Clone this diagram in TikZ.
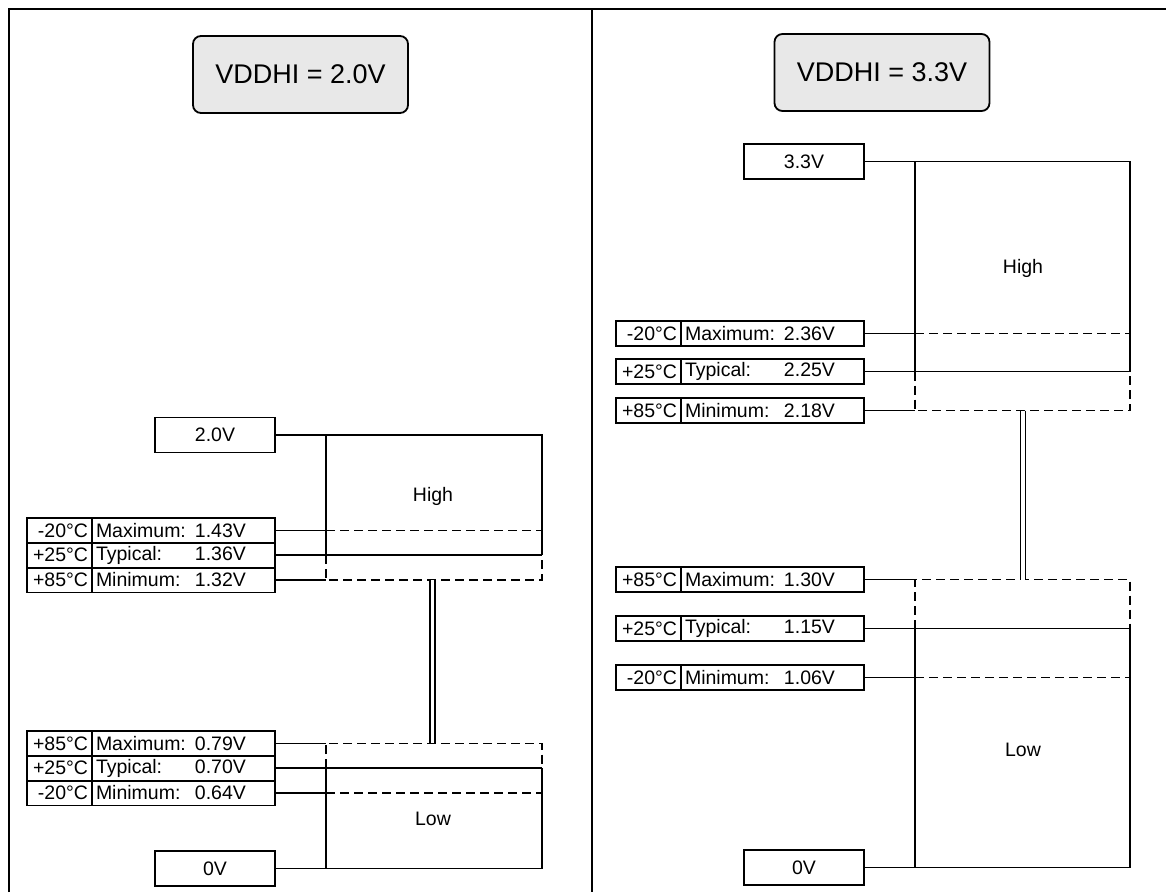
\documentclass[tikz,border=0pt]{standalone}
\usepackage{fontspec}
\setmainfont{Liberation Sans}
\definecolor{titlegray}{HTML}{E8E8E8}
\begin{document}
\begin{tikzpicture}[x=1pt,y=-1pt]
\useasboundingbox (0,0) rectangle (1166,892);
\tikzset{
  frame/.style={line width=2.2pt},
  ln/.style={line width=1.8pt},
  dsh/.style={line width=1.8pt, dash pattern=on 9pt off 5pt},
  txt/.style={font=\fontsize{19.5}{21}\selectfont},
  title/.style={draw, line width=1.8pt, rounded corners=8pt, fill=titlegray,
    font=\fontsize{27}{30}\selectfont, minimum width=215pt, minimum height=77pt},
  vbox/.style={draw, line width=1.8pt, minimum width=120pt, minimum height=35pt,
    inner sep=0pt, outer sep=0pt, txt},
  tcell/.style={draw, line width=1.8pt, anchor=north west, inner xsep=4pt, inner ysep=0pt,
    outer sep=0pt, text width=57pt, align=right, minimum height=#1, txt},
  lcell/.style={draw, line width=1.8pt, anchor=north west, inner xsep=4pt, inner ysep=0pt,
    outer sep=0pt, text width=175pt, align=left, minimum height=#1, txt},
  conn/.style={double, double distance=3.5pt, line width=1.6pt},
}
\newcommand{\lab}[2]{\makebox[99pt][l]{#1}#2}
% frame
\draw[frame] (9,892) -- (9,9) -- (1166,9);
\draw[frame] (592,9) -- (592,892);

% ================= LEFT PANEL =================
\node[title] (tL) at (300.5,74.5) {VDDHI = 2.0V};
\coordinate (LL) at (326,0);
\coordinate (LR) at (542,0);
\node[vbox] (v20) at (215,435) {2.0V};
\node[vbox] (v0L) at (215,868.5) {0V};

% High table
\node[tcell=24.8pt] (h1a) at (27,518) {-20°C};
\node[lcell=24.8pt] (h1b) at (h1a.north east) {\lab{Maximum:}{1.43V}};
\node[tcell=24.8pt] (h2a) at (h1a.south west) {+25°C};
\node[lcell=24.8pt] (h2b) at (h2a.north east) {\lab{Typical:}{1.36V}};
\node[tcell=24.8pt] (h3a) at (h2a.south west) {+85°C};
\node[lcell=24.8pt] (h3b) at (h3a.north east) {\lab{Minimum:}{1.32V}};

% Low table
\node[tcell=24.8pt] (l1a) at (27,731) {+85°C};
\node[lcell=24.8pt] (l1b) at (l1a.north east) {\lab{Maximum:}{0.79V}};
\node[tcell=24.8pt] (l2a) at (l1a.south west) {+25°C};
\node[lcell=24.8pt] (l2b) at (l2a.north east) {\lab{Typical:}{0.70V}};
\node[tcell=24.8pt] (l3a) at (l2a.south west) {-20°C};
\node[lcell=24.8pt] (l3b) at (l3a.north east) {\lab{Minimum:}{0.64V}};

% High band
\draw[ln] (v20.east) -- (v20.east -| LR) -- (h2b.east -| LR);
\draw[ln] (v20.east -| LL) -- (h2b.east -| LL);
\draw[ln] (h1b.east) -- (h1b.east -| LL);
\draw[dsh] (h1b.east -| LL) -- (h1b.east -| LR);
\draw[ln] (h2b.east) -- (h2b.east -| LR);
\draw[ln] (h3b.east) -- (h3b.east -| LL);
\draw[dsh] (h2b.east -| LL) -- (h3b.east -| LL) -- (h3b.east -| LR) -- (h2b.east -| LR);
\node[txt] (hiL) at (433,496) {High};

% Low band
\draw[ln] (l1b.east) -- (l1b.east -| LL);
\draw[dsh] (l2b.east -| LL) -- (l1b.east -| LL) -- (l1b.east -| LR) -- (l2b.east -| LR);
\draw[ln] (l2b.east) -- (l2b.east -| LR);
\draw[ln] (l3b.east) -- (l3b.east -| LL);
\draw[dsh] (l3b.east -| LL) -- (l3b.east -| LR);
\draw[ln] (l2b.east -| LL) -- (v0L.east -| LL);
\draw[ln] (v0L.east) -- (v0L.east -| LR) -- (l2b.east -| LR);
\node[txt] (loL) at (433,819) {Low};

% connector
\coordinate (cL) at (432.5,0);
\draw[conn] (h3b.east -| cL) -- (l1b.east -| cL);

% ================= RIGHT PANEL =================
\node[title] (tR) at (882,72.5) {VDDHI = 3.3V};
\coordinate (RL) at (915,0);
\coordinate (RR) at (1130,0);
\node[vbox] (v33) at (804,161.5) {3.3V};
\node[vbox] (v0R) at (804,867.5) {0V};

% High rows
\node[tcell=25pt] (r1a) at (616,321) {-20°C};
\node[lcell=25pt] (r1b) at (r1a.north east) {\lab{Maximum:}{2.36V}};
\node[tcell=25pt] (r2a) at (616,359) {+25°C};
\node[lcell=25pt] (r2b) at (r2a.north east) {\lab{Typical:}{2.25V}};
\node[tcell=25pt] (r3a) at (616,398) {+85°C};
\node[lcell=25pt] (r3b) at (r3a.north east) {\lab{Minimum:}{2.18V}};

% Low rows
\node[tcell=25pt] (s1a) at (616,567) {+85°C};
\node[lcell=25pt] (s1b) at (s1a.north east) {\lab{Maximum:}{1.30V}};
\node[tcell=25pt] (s2a) at (616,616) {+25°C};
\node[lcell=25pt] (s2b) at (s2a.north east) {\lab{Typical:}{1.15V}};
\node[tcell=25pt] (s3a) at (616,665) {-20°C};
\node[lcell=25pt] (s3b) at (s3a.north east) {\lab{Minimum:}{1.06V}};

% High band
\draw[ln] (v33.east) -- (v33.east -| RR) -- (r2b.east -| RR);
\draw[ln] (v33.east -| RL) -- (r2b.east -| RL);
\draw[ln] (r1b.east) -- (r1b.east -| RL);
\draw[dsh] (r1b.east -| RL) -- (r1b.east -| RR);
\draw[ln] (r2b.east) -- (r2b.east -| RR);
\draw[ln] (r3b.east) -- (r3b.east -| RL);
\draw[dsh] (r2b.east -| RL) -- (r3b.east -| RL) -- (r3b.east -| RR) -- (r2b.east -| RR);
\node[txt] (hiR) at (1023,268) {High};

% Low band
\draw[ln] (s1b.east) -- (s1b.east -| RL);
\draw[dsh] (s2b.east -| RL) -- (s1b.east -| RL) -- (s1b.east -| RR) -- (s2b.east -| RR);
\draw[ln] (s2b.east) -- (s2b.east -| RR);
\draw[ln] (s3b.east) -- (s3b.east -| RL);
\draw[dsh] (s3b.east -| RL) -- (s3b.east -| RR);
\draw[ln] (s2b.east -| RL) -- (v0R.east -| RL);
\draw[ln] (v0R.east) -- (v0R.east -| RR) -- (s2b.east -| RR);
\node[txt] (loR) at (1023,750) {Low};

% connector
\coordinate (cR) at (1023,0);
\draw[conn] (r3b.east -| cR) -- (s1b.east -| cR);
\end{tikzpicture}
\end{document}
